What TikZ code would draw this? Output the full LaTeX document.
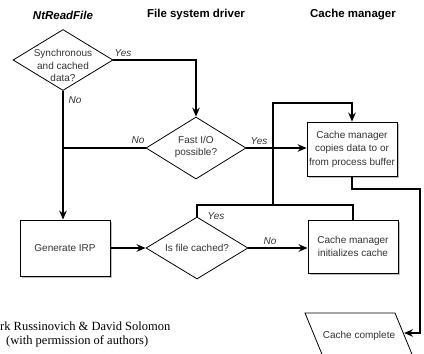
\documentclass[tikz,border=0pt]{standalone}
\usepackage{fontspec}
\setmainfont{Liberation Sans}
\newfontfamily\creditfont{Liberation Serif}
\usetikzlibrary{shapes.geometric,arrows.meta,shadows}
\begin{document}
\begin{tikzpicture}[x=1pt,y=-1pt,
  conn/.style={line width=2.8pt, line join=miter},
  arr/.style={conn, -{Stealth[length=9pt,width=7.5pt]}},
  box/.style={draw, line width=0.8pt, fill=white, minimum width=90pt, minimum height=54pt, inner sep=0pt, align=center, font=\fontsize{10}{13.5}\selectfont, text=black!80, drop shadow={shadow xshift=1.5pt, shadow yshift=-1.5pt, fill=black, opacity=0.25}},
  dia/.style={draw, diamond, line width=0.8pt, fill=white, inner sep=0pt, minimum width=100pt, minimum height=61pt},
  txt/.style={align=center, font=\fontsize{10}{12.5}\selectfont, text=black!80},
  lab/.style={font=\itshape\fontsize{10}{12}\selectfont, text=black!80},
  head/.style={font=\bfseries\fontsize{11.5}{14}\selectfont}]
\useasboundingbox (0,0) rectangle (424,354);
% headers
\node[head, font=\bfseries\itshape\fontsize{11.5}{14}\selectfont] (h1) at (63,15) {NtReadFile};
\node[head] (h2) at (196,15) {File system driver};
\node[head] (h3) at (353,15) {Cache manager};
% decisions
\node[dia] (d1) at (63,60) {};
\node[txt] (t1) at (63,65.5) {Synchronous\\and cached\\data?};
\node[dia, minimum height=62pt] (d2) at (196,148) {};
\node[txt] (t2) at (196,147) {Fast I/O\\possible?};
\node[dia, minimum width=102pt, minimum height=62pt] (d3) at (197,248) {};
\node[txt] (t3) at (d3) {Is file cached?};
% boxes
\node[box, minimum height=56pt] (gen) at (65,248) {Generate IRP};
\node[box] (copy) at (352,149) {Cache manager\\copies data to or\\from process buffer};
\node[box, minimum height=53pt, font=\fontsize{10}{13}\selectfont] (init) at (353,246.5) {Cache manager\\initializes cache};
% parallelogram
\coordinate (p1) at (305,313);
\coordinate (p2) at (395,313);
\coordinate (p3) at (416,364);
\coordinate (p4) at (326,364);
\draw[line width=0.8pt, fill=white] (p1) -- (p2) -- (p3) -- (p4) -- cycle;
\node[txt] (cc) at (359,336) {Cache complete};
\coordinate (ccr) at (404,333);
% helper coordinates
\coordinate (j) at (273,205);
\coordinate (jt) at (273,103);
\coordinate (rt) at (420,189);
% connectors
\draw[arr] (d1.east) -| (d2.north);
\draw[arr] (d1.south) -- (d1.south |- gen.north);
\draw[conn] (d2.west) -- (d2.west -| d1.south);
\draw[arr] (d2.east) -- (copy.west |- d2.east);
\draw[arr] (gen.east) -- (d3.west);
\draw[arr] (d3.east) -- (init.west |- d3.east);
\draw[conn] (d3.north) |- (j);
\draw[arr] (init.north) |- (j) -- (jt) -| (copy.north);
\draw[arr] (copy.south) |- (rt) |- (ccr);
% labels
\node[lab] (l1) at (123,53) {Yes};
\node[lab] (l2) at (75,100) {No};
\node[lab] (l3) at (138,140) {No};
\node[lab] (l4) at (259,141) {Yes};
\node[lab] (l5) at (216,216) {Yes};
\node[lab] (l6) at (270,241) {No};
% credits
\node[anchor=west, inner sep=0pt, font=\creditfont\fontsize{12.5}{15}\selectfont] (c1) at (0,326) {rk Russinovich \& David Solomon};
\node[anchor=west, inner sep=0pt, font=\creditfont\fontsize{12.5}{15}\selectfont] (c2) at (6,341) {(with permission of authors)};
\end{tikzpicture}
\end{document}
